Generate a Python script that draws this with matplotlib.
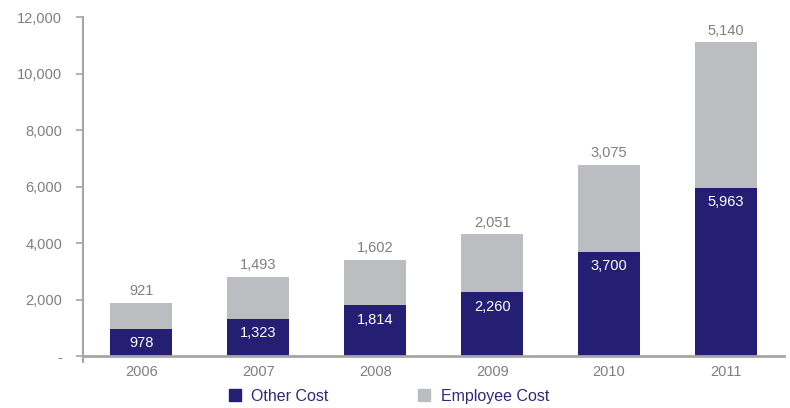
import matplotlib
matplotlib.use("Agg")
import matplotlib.pyplot as plt
from matplotlib.patches import Patch

years = ["2006", "2007", "2008", "2009", "2010", "2011"]
other_cost = [978, 1323, 1814, 2260, 3700, 5963]
employee_cost = [921, 1493, 1602, 2051, 3075, 5140]
y_ticks = [0, 2000, 4000, 6000, 8000, 10000, 12000]
y_tick_labels = ["-", "2,000", "4,000", "6,000", "8,000", "10,000", "12,000"]

NAVY = "#241f73"
GREY = "#bcbdc1"
AXIS = "#a6a6a6"
TEXT = "#7f7f7f"

plt.rcParams["font.family"] = ["Liberation Sans", "DejaVu Sans"]

fig = plt.figure(figsize=(7.9, 4.08), dpi=100)
ax = fig.add_axes([0.105, 0.127, 0.888, 0.831])

x = list(range(len(years)))
w = 0.53
ax.bar(x, other_cost, width=w, color=NAVY, zorder=2)
ax.bar(x, employee_cost, width=w, bottom=other_cost, color=GREY, zorder=2)

for xi, o, e in zip(x, other_cost, employee_cost):
    ax.annotate(f"{o:,}", (xi, o), xytext=(0, -10.5), textcoords="offset points",
                ha="center", va="center", color="white", fontsize=10.5)
    ax.annotate(f"{e:,}", (xi, o + e), xytext=(0, 3.5), textcoords="offset points",
                ha="center", va="bottom", color=TEXT, fontsize=10.5)

ax.set_xlim(-0.5, len(years) - 0.5)
ax.set_ylim(0, 12000)
ax.set_yticks(y_ticks)
ax.set_yticklabels(y_tick_labels)
ax.set_xticks(x)
ax.set_xticklabels(years)

for s in ["top", "right"]:
    ax.spines[s].set_visible(False)
ax.spines["left"].set_color(AXIS)
ax.spines["left"].set_linewidth(1.5)
ax.spines["left"].set_bounds(-200, 12000)
ax.spines["bottom"].set_color(AXIS)
ax.spines["bottom"].set_linewidth(2)
ax.spines["bottom"].set_zorder(3)
ax.tick_params(axis="y", colors=AXIS, labelcolor=TEXT, labelsize=10.5,
               length=5, width=1.2, pad=10)
ax.tick_params(axis="x", length=0, labelcolor=TEXT, labelsize=10.5, pad=6)

handles = [Patch(color=NAVY, label="Other Cost"), Patch(color=GREY, label="Employee Cost")]
leg = fig.legend(handles=handles, loc="center", bbox_to_anchor=(0.4924, 0.029), ncol=2,
                 frameon=False, fontsize=11.5, handlelength=0.75, handleheight=0.75,
                 handletextpad=0.65, columnspacing=5.6)
for t in leg.get_texts():
    t.set_color("#2e2a78")

fig.savefig("out.png", dpi=100)
